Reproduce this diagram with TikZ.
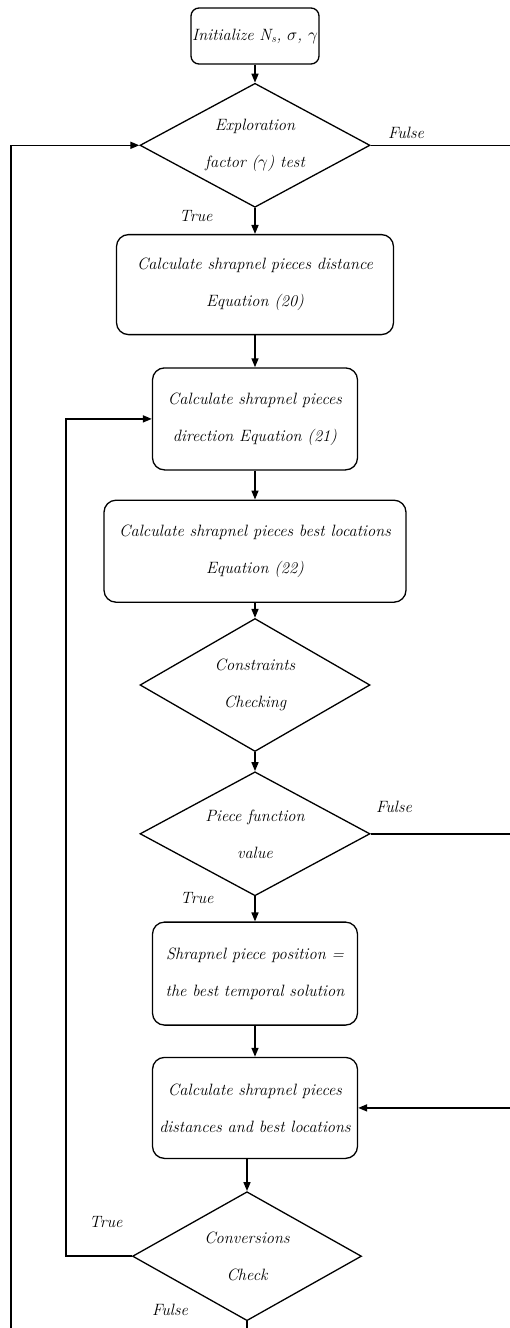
\documentclass[tikz,border=0pt]{standalone}
\usepackage{tikz}
\usetikzlibrary{arrows.meta,positioning,shapes.geometric}

\begin{document}
\begin{tikzpicture}[->,>={Triangle[length=9pt,width=7pt]},x=1pt,y=-1pt,line width=1.6pt,
  every node/.style={font=\fontsize{16.4}{37}\selectfont\itshape},
  proc/.style={draw,rectangle,rounded corners=12pt,align=center,minimum height=101pt,line width=1.3pt},
  test/.style={draw,diamond,aspect=1.85,minimum width=230pt,minimum height=124pt,inner sep=0pt,align=center,line width=1.3pt}]
  \useasboundingbox (0,0) rectangle (509,1328);

  \node[proc,minimum width=128pt,minimum height=56pt,rounded corners=8pt,inner xsep=1pt] (init) at (255,36) {Initialize N\textsubscript{s}, $\sigma$, $\gamma$};
  \node[test]                              (explore) [below=18pt of init]    {Exploration\\factor ($\gamma$) test};
  \node[proc,minimum width=277pt,minimum height=100pt] (dist) [below=26pt of explore] {Calculate shrapnel pieces distance\\Equation (20)};
  \node[proc,minimum width=205pt,minimum height=102pt] (dir) [below=32pt of dist] {Calculate shrapnel pieces\\direction Equation (21)};
  \node[proc,minimum width=302pt,minimum height=102pt] (best) [below=29pt of dir] {Calculate shrapnel pieces best locations\\Equation (22)};
  \node[test,minimum height=133pt]         (cons)    [below=15pt of best]    {Constraints\\Checking};
  \node[test]                              (piece)   [below=19pt of cons]    {Piece function\\value};
  \node[proc,minimum width=205pt,minimum height=103pt] (update) [below=25pt of piece] {Shrapnel piece position =\\the best temporal solution};
  \node[proc,minimum width=205pt]          (locate)  [below=31pt of update]  {Calculate shrapnel pieces\\distances and best locations};
  \node[test,minimum width=229pt,minimum height=129pt] (conv) [below=32pt of locate,xshift=-8pt] {Conversions\\Check};

  % branch labels
  \node (fexp)   at (406,133)  {Fulse};
  \node (texp)   at (196,216)  {True};
  \node (fpiece) at (394,807)  {Fulse};
  \node (tpiece) at (197,898)  {True};
  \node (tconv)  at (106,1222) {True};
  \node (fconv)  at (170,1310) {Fulse};

  \coordinate (inl)  at (66,0);
  \coordinate (outl) at (11,1345);
  \coordinate (outr) at (516,0);

  \path (init) edge (explore)
        (explore) edge (dist)
        (dist) edge (dir)
        (dir) edge (best)
        (best) edge (cons)
        (cons) edge (piece)
        (piece) edge (update)
        (update) edge (locate)
        (conv.north |- locate.south) edge (conv);

  \draw (conv.west) -- (conv.west -| inl) |- (dir.west);
  \draw (conv.south) |- (outl) |- (explore.west);
  \draw (explore.east) -- (explore.east -| outr) |- (locate.east);
  \draw[-] (piece.east) -- (piece.east -| outr);
\end{tikzpicture}
\end{document}
